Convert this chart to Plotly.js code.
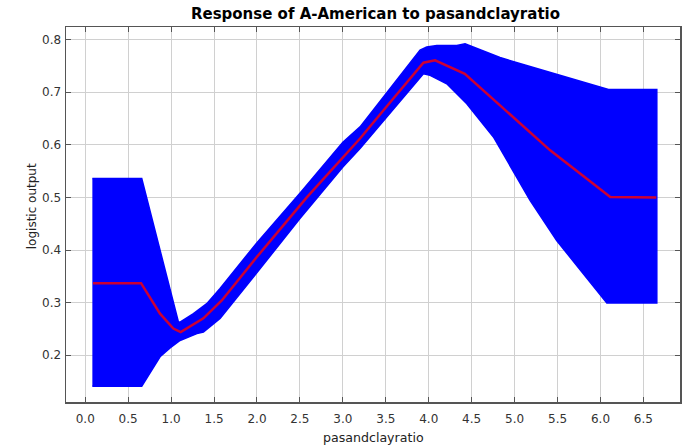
<!DOCTYPE html>
<html>
<head>
<meta charset="utf-8">
<script src="https://cdn.plot.ly/plotly-3.0.1.min.js"></script>
<style>html,body{margin:0;padding:0;background:#fff;}#chart{width:692px;height:445px;}</style>
</head>
<body>
<div id="chart"></div>
<script>
// Mean response (red line)
var meanX = [0.09, 0.65, 0.871, 1.026, 1.112, 1.376, 1.59, 2.0, 2.58, 3.2, 3.588, 3.938, 4.074, 4.42, 4.83, 5.07, 5.414, 6.114, 6.65];
var meanY = [0.337, 0.337, 0.279, 0.2506, 0.244, 0.270, 0.304, 0.387, 0.500, 0.612, 0.688, 0.756, 0.7606, 0.735, 0.675, 0.640, 0.5895, 0.5008, 0.500];

// Upper envelope of the blue band
var upperX = [0.083, 0.658, 1.085, 1.104, 1.26, 1.415, 1.57, 2.0, 2.5, 3.0, 3.2, 3.6, 3.899, 3.977, 4.094, 4.327, 4.423, 4.83, 5.07, 6.093, 6.656];
var upperY = [0.536, 0.536, 0.263, 0.263, 0.279, 0.298, 0.327, 0.414, 0.508, 0.605, 0.634, 0.717, 0.780, 0.786, 0.789, 0.789, 0.792, 0.766, 0.754, 0.705, 0.705];

// Lower envelope of the blue band
var lowerX = [0.083, 0.658, 0.871, 0.988, 1.104, 1.30, 1.376, 1.57, 2.0, 2.5, 3.0, 3.2, 3.6, 3.938, 4.016, 4.21, 4.443, 4.753, 5.025, 5.18, 5.49, 5.77, 6.074, 6.656];
var lowerY = [0.141, 0.141, 0.197, 0.214, 0.228, 0.241, 0.244, 0.270, 0.357, 0.460, 0.558, 0.593, 0.670, 0.735, 0.732, 0.716, 0.678, 0.615, 0.539, 0.4945, 0.418, 0.361, 0.299, 0.299];

var xTicks = [0, 0.5, 1, 1.5, 2, 2.5, 3, 3.5, 4, 4.5, 5, 5.5, 6, 6.5];
var xTickText = ["0.0","0.5","1.0","1.5","2.0","2.5","3.0","3.5","4.0","4.5","5.0","5.5","6.0","6.5"];
var yTicks = [0.2, 0.3, 0.4, 0.5, 0.6, 0.7, 0.8];
var yTickText = ["0.2","0.3","0.4","0.5","0.6","0.7","0.8"];

var bandX = upperX.concat(lowerX.slice().reverse());
var bandY = upperY.concat(lowerY.slice().reverse());

var traces = [
  {x: bandX, y: bandY, type: 'scatter', mode: 'lines', fill: 'toself',
   fillcolor: '#0000ff', line: {color: '#0000ff', width: 1.5}, hoverinfo: 'skip', showlegend: false},
  {x: meanX, y: meanY, type: 'scatter', mode: 'lines',
   line: {color: '#cc0033', width: 2.5}, showlegend: false}
];

var FONT = 'DejaVu Sans, Verdana, sans-serif';

var axisCommon = {
  showline: true, linecolor: '#555', linewidth: 1.5, mirror: 'ticks',
  ticks: 'inside', ticklen: 5, tickcolor: '#555', tickwidth: 1,
  showgrid: true, gridcolor: '#d0d0d0', gridwidth: 1, zeroline: false,
  tickfont: {family: FONT, size: 12, color: '#333'}
};

var layout = {
  width: 692, height: 445,
  margin: {l: 66, r: 12, t: 27, b: 43},
  paper_bgcolor: '#fff', plot_bgcolor: '#fff',
  title: {text: '<b>Response of A-American to pasandclayratio</b>', x: 0.5426, xanchor: 'center', y: 0.968, yanchor: 'middle',
          font: {family: FONT, size: 15, color: '#000'}},
  xaxis: Object.assign({}, axisCommon, {
    range: [-0.224, 6.926], tickvals: xTicks, ticktext: xTickText, ticklabelstandoff: 5
  }),
  yaxis: Object.assign({}, axisCommon, {
    range: [0.111, 0.824], tickvals: yTicks, ticktext: yTickText, ticklabelstandoff: 1
  }),
  annotations: [
    {text: 'pasandclayratio', xref: 'paper', yref: 'paper', x: 0.5016, y: -0.0955,
     xanchor: 'center', yanchor: 'middle', showarrow: false,
     font: {family: FONT, size: 12.6, color: '#222'}},
    {text: 'logistic output', xref: 'paper', yref: 'paper', x: -0.0554, y: 0.522,
     xanchor: 'center', yanchor: 'middle', textangle: -90, showarrow: false,
     font: {family: FONT, size: 12, color: '#222'}}
  ],
  font: {family: FONT}
};

Plotly.newPlot('chart', traces, layout, {displayModeBar: false, staticPlot: true});
</script>
</body>
</html>
